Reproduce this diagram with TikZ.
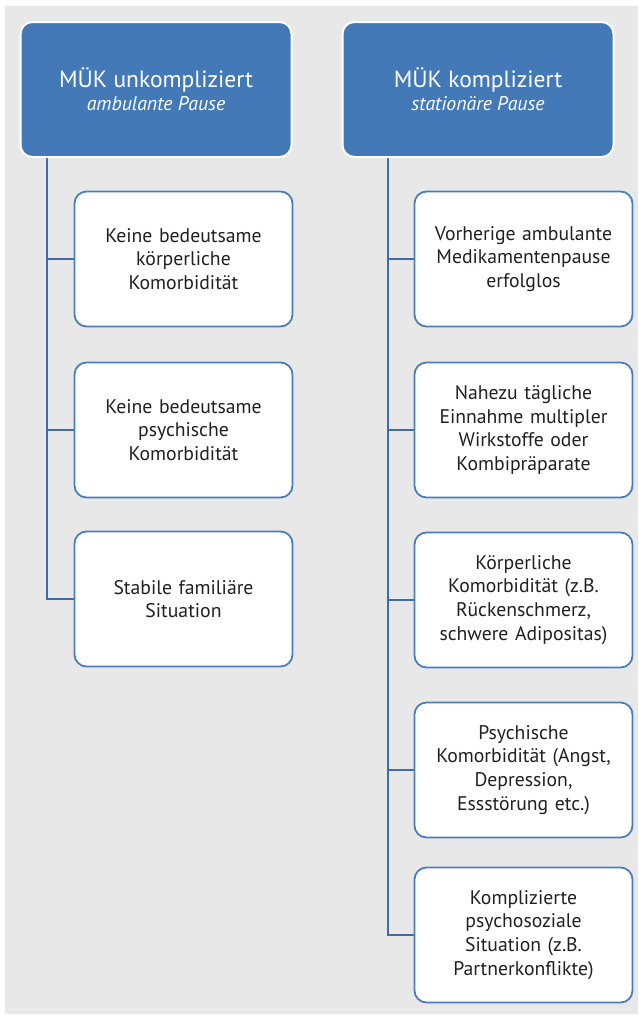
\documentclass[tikz,border=0pt]{standalone}
\usepackage{fontspec}
\setmainfont{PT Sans}
\usetikzlibrary{backgrounds}
\definecolor{bgray}{HTML}{E8E8E8}
\definecolor{hblue}{HTML}{4479B7}
\definecolor{bline}{HTML}{4A7EBB}
\definecolor{cline}{HTML}{3E6CA8}
\definecolor{txt}{HTML}{231F20}
\tikzset{
  header/.style={draw=white, line width=2pt, fill=hblue, rounded corners=12pt,
    minimum width=271pt, minimum height=135pt, text=white, align=center, inner sep=0pt},
  item/.style={draw=bline, line width=1.8pt, fill=white, rounded corners=12pt,
    minimum width=218pt, minimum height=135pt, text width=210pt, text=txt, align=center,
    font=\fontsize{19.7}{23.7}\selectfont, inner sep=0pt},
  conn/.style={draw=cline, line width=2pt}
}
\newcommand{\hdr}[2]{{\fontsize{23.5}{27}\selectfont #1}\\[3pt]{\fontsize{19.8}{22}\selectfont\itshape #2}}
\begin{document}
\begin{tikzpicture}[x=1pt,y=-1pt]
\useasboundingbox (0,0) rectangle (638,1015);
\node[header] (L) at (156,89.5) {\hdr{MÜK unkompliziert}{ambulante Pause}};
\node[header] (R) at (478,89.5) {\hdr{MÜK kompliziert}{stationäre Pause}};

\node[item] (l1) at (183.5,259) {Keine bedeutsame\\körperliche\\Komorbidität};
\node[item] (l2) at (183.5,430) {Keine bedeutsame\\psychische\\Komorbidität};
\node[item] (l3) at (183.5,599) {Stabile familiäre\\Situation};

\node[item] (r1) at (523.5,259) {Vorherige ambulante\\Medikamentenpause\\erfolglos};
\node[item] (r2) at (523.5,430) {Nahezu tägliche\\Einnahme multipler\\Wirkstoffe oder\\Kombipräparate};
\node[item] (r3) at (523.5,600) {Körperliche\\Komorbidität (z.B.\\Rückenschmerz,\\schwere Adipositas)};
\node[item] (r4) at (523.5,770) {Psychische\\Komorbidität (Angst,\\Depression,\\Essstörung etc.)};
\node[item] (r5) at (523.5,935) {Komplizierte\\psychosoziale\\Situation (z.B.\\Partnerkonflikte)};

\coordinate (lx) at (47,0);
\coordinate (rx) at (388,0);

\begin{pgfonlayer}{background}
\fill[bgray] (5,6) rectangle (638,1014);
\draw[conn] (L.south -| lx) |- (l3.west);
\draw[conn] (lx |- l1.west) -- (l1.west);
\draw[conn] (lx |- l2.west) -- (l2.west);
\draw[conn] (R.south -| rx) |- (r5.west);
\draw[conn] (rx |- r1.west) -- (r1.west);
\draw[conn] (rx |- r2.west) -- (r2.west);
\draw[conn] (rx |- r3.west) -- (r3.west);
\draw[conn] (rx |- r4.west) -- (r4.west);
\end{pgfonlayer}
\end{tikzpicture}
\end{document}
